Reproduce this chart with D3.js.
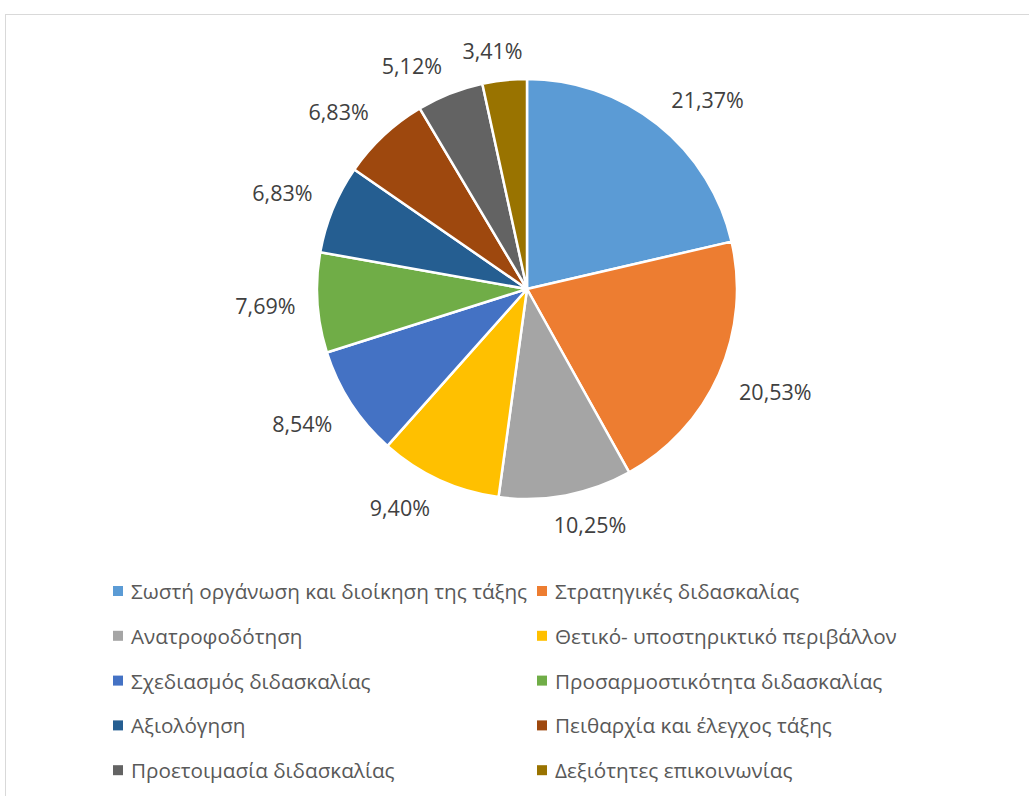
<!DOCTYPE html>
<html>
<head>
<meta charset="utf-8">
<script src="https://cdn.jsdelivr.net/npm/d3@7"></script>
<style>
  html, body { margin: 0; padding: 0; background: #fff; }
  svg { display: block; }
  text { font-family: "Open Sans", sans-serif; }
</style>
</head>
<body>
<svg id="chart" width="1029" height="796"></svg>
<script>
const categories = [
  "Σωστή οργάνωση και διοίκηση της τάξης",
  "Στρατηγικές διδασκαλίας",
  "Ανατροφοδότηση",
  "Θετικό- υποστηρικτικό περιβάλλον",
  "Σχεδιασμός διδασκαλίας",
  "Προσαρμοστικότητα διδασκαλίας",
  "Αξιολόγηση",
  "Πειθαρχία και έλεγχος τάξης",
  "Προετοιμασία διδασκαλίας",
  "Δεξιότητες επικοινωνίας"
];
const values = [21.37, 20.53, 10.25, 9.40, 8.54, 7.69, 6.83, 6.83, 5.12, 3.41];
const colors = ["#5B9BD5", "#ED7D31", "#A5A5A5", "#FFC000", "#4472C4",
                "#70AD47", "#255E91", "#9E480E", "#636363", "#997300"];

const svg = d3.select("#chart");
const W = 1029, H = 796;

// chart area border
svg.append("rect")
  .attr("x", 5.5).attr("y", 14.5)
  .attr("width", W + 20).attr("height", H + 20)
  .attr("fill", "#fff").attr("stroke", "#d9d9d9").attr("stroke-width", 1);

const cx = 527, cy = 289, r = 210;
const g = svg.append("g").attr("transform", `translate(${cx},${cy})`);

const data = categories.map((c, i) => ({ name: c, value: values[i], color: colors[i] }));
const pie = d3.pie().value(d => d.value).sort(null);
const arcs = pie(data);
const arc = d3.arc().innerRadius(0).outerRadius(r);

g.selectAll("path.slice").data(arcs).enter().append("path")
  .attr("class", "slice")
  .attr("d", arc)
  .attr("fill", d => d.data.color)
  .attr("stroke", "#fff")
  .attr("stroke-width", 2.5)
  .attr("stroke-linejoin", "round");

// data labels (outside end)
const fmt = v => v.toFixed(2).replace(".", ",") + "%";
const pad = 22, hh = 8;
const clamp = v => Math.max(-1, Math.min(1, v));
g.selectAll("text.lbl").data(arcs).enter().append("text")
  .attr("class", "lbl")
  .attr("font-size", 21.5)
  .attr("fill", "#404040")
  .attr("text-anchor", "middle")
  .attr("dominant-baseline", "central")
  .text(d => fmt(d.data.value))
  .each(function(d) {
    const a = (d.startAngle + d.endAngle) / 2;
    const s = Math.sin(a), c = Math.cos(a);
    const w = this.getComputedTextLength();
    const ax = (r + pad) * s, ay = -(r + pad) * c;
    const x = ax + clamp(3 * s) * w / 2;
    const y = ay + clamp(-3 * c) * hh;
    d3.select(this).attr("x", x).attr("y", y);
  });

// legend
const legX = [113, 537];
const legY0 = 591, legDy = 44.8;
const leg = svg.append("g");
data.forEach((d, i) => {
  const col = i % 2, row = Math.floor(i / 2);
  const x = legX[col], y = legY0 + row * legDy;
  leg.append("rect").attr("x", x).attr("y", y - 5).attr("width", 10).attr("height", 10)
    .attr("fill", d.color);
  leg.append("text").attr("x", x + 18).attr("y", y)
    .attr("dominant-baseline", "central")
    .attr("font-size", 20.7)
    .attr("fill", "#595959")
    .text(d.name);
});
</script>
</body>
</html>
